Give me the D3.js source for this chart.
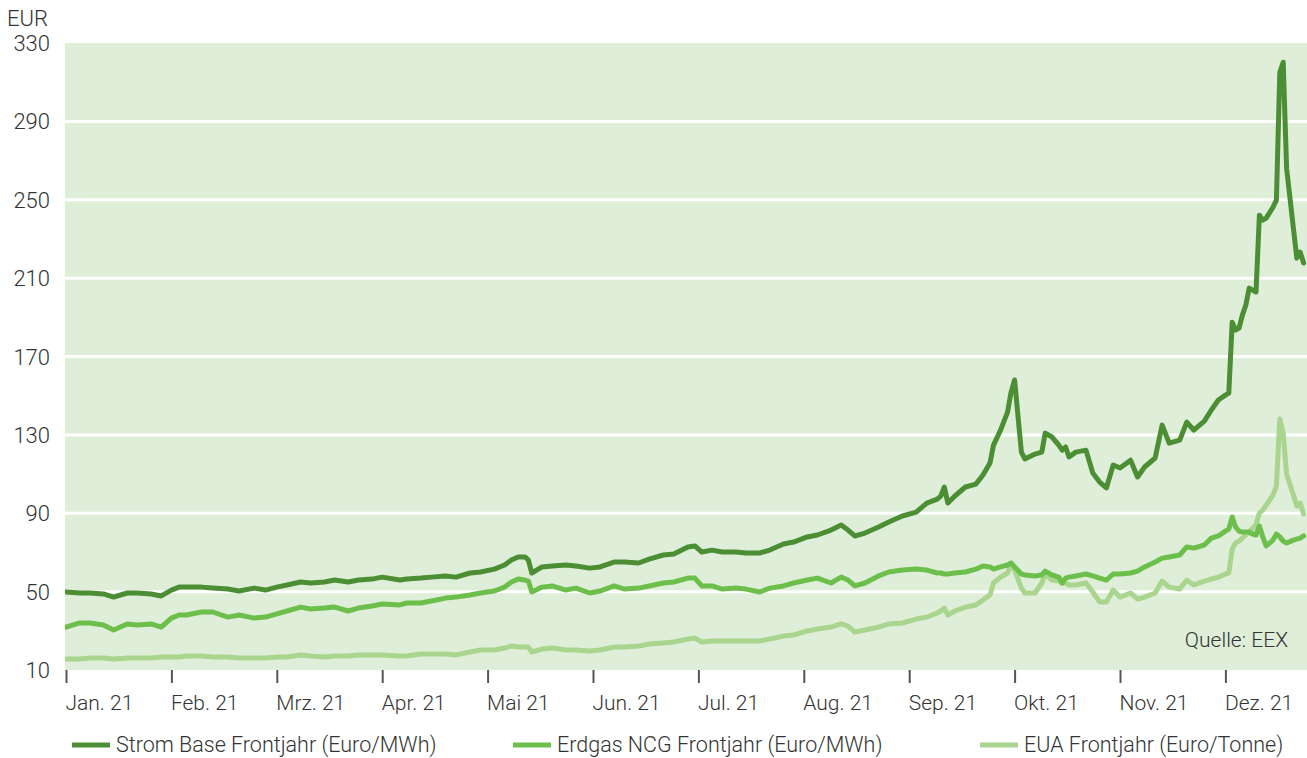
<!DOCTYPE html>
<html><head><meta charset="utf-8">
<script src="https://cdn.jsdelivr.net/npm/d3@7"></script>
<style>
body{margin:0;background:#fff}
svg text{font-family:Roboto,"Open Sans",sans-serif;font-weight:300;fill:#333}
</style></head>
<body><svg id="c" width="1307" height="758"></svg>
<script>
const months = ["Jan. 21","Feb. 21","Mrz. 21","Apr. 21","Mai 21","Jun. 21","Jul. 21","Aug. 21","Sep. 21","Okt. 21","Nov. 21","Dez. 21"];
const yTicks = [10,50,90,130,170,210,250,290,330];
const seriesNames = ["Strom Base Frontjahr (Euro/MWh)","Erdgas NCG Frontjahr (Euro/MWh)","EUA Frontjahr (Euro/Tonne)"];
const dates = [
"01-01","01-05","01-08","01-12","01-15","01-19","01-22","01-26","01-29",
"02-01","02-03","02-05","02-09","02-12","02-16","02-19","02-23","02-26",
"03-01","03-04","03-08","03-11","03-15","03-18","03-22","03-25","03-29",
"04-01","04-06","04-08","04-12","04-15","04-19","04-22","04-26","04-29",
"05-03","05-06","05-08","05-10","05-12","05-13","05-14","05-17","05-20","05-24","05-27","05-31",
"06-03","06-07","06-10","06-14","06-17","06-21","06-24","06-28","06-30",
"07-02","07-05","07-08","07-12","07-15","07-19","07-22","07-26","07-29",
"08-02","08-05","08-09","08-12","08-14","08-16","08-19","08-23","08-26","08-30",
"09-03","09-06","09-09","09-10","09-11","09-12","09-14","09-17","09-20","09-22","09-24","09-25","09-27","09-29","09-30",
"10-01","10-03","10-04","10-07","10-09","10-10","10-12","10-14","10-15","10-16","10-17","10-19","10-22","10-24","10-26","10-28","10-30",
"11-01","11-04","11-06","11-08","11-11","11-13","11-15","11-18","11-20","11-22","11-25","11-27","11-29",
"12-01","12-02","12-03","12-04","12-05","12-06","12-07","12-08","12-09","12-10","12-11","12-12","12-13","12-15","12-16","12-17","12-18","12-19","12-21","12-22","12-23","12-24"];
const strom = [
49.8,49.3,49.3,48.8,47.2,49.3,49.3,48.8,47.8,
50.8,52.3,52.3,52.3,51.8,51.3,50.3,51.8,50.8,
52.3,53.4,54.9,54.4,54.9,55.9,54.9,55.9,56.4,
57.4,55.9,56.4,56.9,57.4,58.0,57.4,59.5,60.0,
61.5,63.6,66.1,67.7,67.7,66.1,59.5,62.6,63.1,63.6,63.1,62.0,
62.6,65.1,65.1,64.6,66.6,68.7,69.2,72.8,73.3,
70.2,71.2,70.2,70.2,69.7,69.7,71.2,74.3,75.3,
77.9,78.9,81.4,84.0,81.4,78.4,79.9,83.0,85.5,88.6,
90.6,95.2,97.2,98.8,103.4,95.2,98.8,103.4,104.9,109.5,115.6,124.8,132.4,141.6,151.8,
158.0,121.2,117.7,120.2,121.2,130.9,128.9,124.8,122.2,123.8,118.7,121.2,122.2,110.5,105.9,102.9,114.6,
113.1,117.1,108.5,113.6,118.2,135.0,125.8,127.3,136.5,132.4,137.0,142.7,147.8,
150.3,151.3,187.5,183.5,184.5,191.1,196.2,204.9,203.9,202.9,242.1,239.6,240.6,246.2,249.8,315.1,320.2,266.1,235.5,220.2,223.3,217.7];
const erdgas = [
31.9,34.0,34.0,33.0,30.4,33.5,33.0,33.5,31.9,
36.5,38.1,38.1,39.6,39.6,37.0,38.1,36.5,37.0,
38.6,40.1,42.1,41.1,41.6,42.1,40.1,41.6,42.7,
43.7,43.2,44.2,44.2,45.2,46.7,47.2,48.3,49.3,
50.3,52.3,54.9,56.4,55.9,55.4,49.8,52.3,52.9,50.8,51.8,49.3,
50.3,52.9,51.3,51.8,52.9,54.4,54.9,56.9,56.9,
52.9,52.9,51.3,51.8,51.3,49.8,51.8,52.9,54.4,
55.9,56.9,54.4,57.4,55.9,52.9,54.4,58.0,60.0,61.0,
61.5,61.0,59.5,59.5,59.0,59.0,59.5,60.0,61.5,63.1,62.6,61.5,62.6,63.6,64.6,
62.6,59.0,58.5,58.0,58.5,60.5,58.5,57.4,54.4,56.9,57.4,58.0,59.0,58.0,56.9,55.9,59.0,
59.0,59.5,60.5,62.6,65.1,67.1,67.7,68.7,72.8,72.2,73.8,77.3,78.4,
80.9,81.9,88.1,83.0,80.9,80.4,80.4,80.4,79.4,78.9,83.5,77.9,73.3,76.3,79.4,77.9,75.8,74.8,76.3,76.8,77.3,78.4];
const eua = [
15.6,15.6,16.1,16.1,15.6,16.1,16.1,16.1,16.6,
16.6,16.6,17.1,17.1,16.6,16.6,16.1,16.1,16.1,
16.6,16.6,17.7,17.1,16.6,17.1,17.1,17.7,17.7,
17.7,17.1,17.1,18.2,18.2,18.2,17.7,19.2,20.2,
20.2,21.2,22.2,21.7,21.7,21.7,19.2,20.7,21.2,20.2,20.2,19.7,
20.2,21.7,21.7,22.2,23.3,23.8,24.3,25.8,26.3,
24.3,24.8,24.8,24.8,24.8,24.8,25.8,27.3,27.9,
29.9,30.9,31.9,33.5,32.4,29.4,30.4,31.9,33.5,34.0,
36.0,37.0,39.1,40.1,41.6,38.1,40.1,42.1,43.2,45.7,48.3,54.4,57.4,59.5,63.6,
61.0,51.8,49.3,49.3,54.4,59.0,55.9,55.4,54.4,54.4,53.4,53.4,54.4,49.8,44.7,44.7,50.8,
47.2,49.3,46.2,47.2,49.3,55.4,52.3,51.3,55.9,53.4,55.4,56.4,57.4,
59.0,59.5,71.8,74.8,75.8,77.3,78.9,80.4,82.4,84.0,90.1,91.6,94.2,99.3,103.9,138.1,131.0,110.0,99.3,93.7,95.2,89.6];

const colors = ["#4b8e34","#6dbf4b","#a9d58f"];
const monthDays = [31,28,31,30,31,30,31,31,30,31,30,31];
function monthPos(s){const [m,d]=s.split("-").map(Number);return (m-1)+(d-1)/monthDays[m-1];}

const W=1307, plotL=65, plotT=43, plotB=670;
const svg=d3.select("#c");
const x=d3.scaleLinear().domain([0,12]).range([66,66+12*105.4]);
const y=d3.scaleLinear().domain([10,330]).range([plotB,plotT]);

svg.append("defs").append("clipPath").attr("id","clip").append("rect")
  .attr("x",plotL).attr("y",0).attr("width",W-plotL).attr("height",plotB+10);

svg.append("rect").attr("x",plotL).attr("y",plotT).attr("width",W-plotL).attr("height",plotB-plotT).attr("fill","#dfeed8");

svg.append("g").selectAll("line").data(yTicks.filter(v=>v>10&&v<330)).join("line")
  .attr("x1",plotL).attr("x2",W).attr("y1",d=>y(d)).attr("y2",d=>y(d))
  .attr("stroke","#fff").attr("stroke-width",3);

svg.append("g").selectAll("text").data(yTicks).join("text")
  .attr("x",50).attr("y",d=>y(d)+8).attr("text-anchor","end")
  .style("font-size","22px").text(d=>d);
svg.append("text").attr("x",7).attr("y",26).style("font-size","22px").text("EUR");

const xAxis=d3.axisBottom(x).tickValues(d3.range(12)).tickSize(13).tickFormat((d,i)=>months[i]);
const gx=svg.append("g").attr("transform",`translate(0,${plotB})`).call(xAxis);
gx.select(".domain").remove();
gx.selectAll(".tick line").attr("stroke","#555").attr("stroke-width",2);
gx.selectAll(".tick text").attr("text-anchor","start").attr("x",-1).attr("y",40).attr("dy",null)
  .style("font-size","21px").style("font-family",null).attr("fill",null);
gx.attr("font-family",null).attr("font-size",null);

const series=[strom,erdgas,eua];
const line=d3.line().x((d,i)=>x(monthPos(dates[i]))).y(d=>y(d));
const gl=svg.append("g").attr("clip-path","url(#clip)");
[2,1,0].forEach(k=>{
  gl.append("path").datum(series[k]).attr("d",line).attr("fill","none")
    .attr("stroke",colors[k]).attr("stroke-width",5).attr("stroke-linejoin","round").attr("stroke-linecap","round");
});

svg.append("text").attr("x",1288).attr("y",647).attr("text-anchor","end").style("font-size","21px").text("Quelle: EEX");

const legX=[72,513,980];
const lg=svg.append("g");
seriesNames.forEach((n,i)=>{
  lg.append("line").attr("x1",legX[i]).attr("x2",legX[i]+38).attr("y1",745).attr("y2",745)
    .attr("stroke",colors[i]).attr("stroke-width",5);
  lg.append("text").attr("x",legX[i]+44).attr("y",752).style("font-size","21.5px").text(n);
});
</script></body></html>
